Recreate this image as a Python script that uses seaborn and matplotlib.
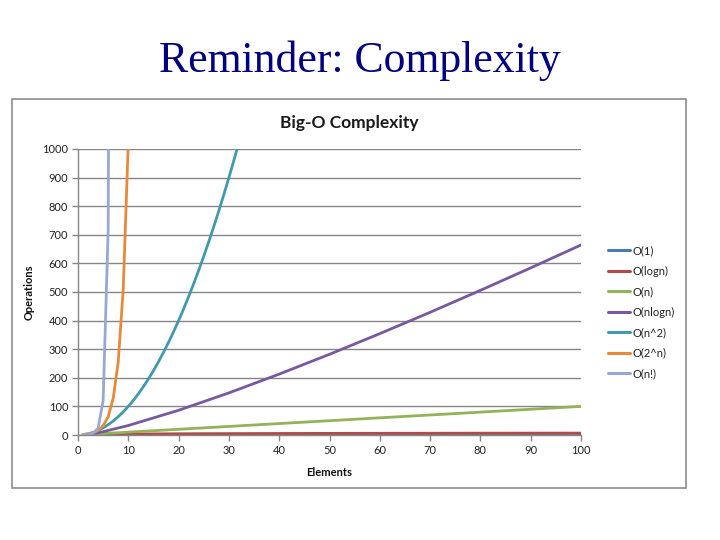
import matplotlib
matplotlib.use("Agg")
import matplotlib.pyplot as plt
import seaborn as sns
import pandas as pd
from matplotlib.patches import Rectangle

# ---- data ----
series_names = ["O(1)", "O(logn)", "O(n)", "O(nlogn)", "O(n^2)", "O(2^n)", "O(n!)"]
colors = ["#4A7BAE", "#B24A48", "#93B25A", "#7759A0", "#4298AE", "#E8893A", "#97A9D0"]

x_slow = [1, 2, 3, 4, 5, 10, 20, 30, 40, 50, 60, 70, 80, 90, 100]
y_o1 = [1, 1, 1, 1, 1, 1, 1, 1, 1, 1, 1, 1, 1, 1, 1]
y_logn = [0, 1, 1.58, 2, 2.32, 3.32, 4.32, 4.91, 5.32, 5.64, 5.91, 6.13, 6.32, 6.49, 6.64]
y_n = [1, 2, 3, 4, 5, 10, 20, 30, 40, 50, 60, 70, 80, 90, 100]
y_nlogn = [0, 2, 4.75, 8, 11.6, 33.2, 86.4, 147.2, 212.9, 282.2, 354.4, 429.0, 505.8, 584.3, 664.4]

x_sq = [1, 2, 3, 4, 5, 6, 7, 8, 9, 10, 11, 12, 13, 14, 15, 16,
        17, 18, 19, 20, 21, 22, 23, 24, 25, 26, 27, 28, 29, 30, 31, 32]
y_sq = [1, 4, 9, 16, 25, 36, 49, 64, 81, 100, 121, 144, 169, 196, 225, 256,
        289, 324, 361, 400, 441, 484, 529, 576, 625, 676, 729, 784, 841, 900, 961, 1024]

x_exp = [1, 2, 3, 4, 5, 6, 7, 8, 9, 10]
y_exp = [2, 4, 8, 16, 32, 64, 128, 256, 512, 1024]

x_fact = [1, 2, 3, 4, 5, 6, 7]
y_fact = [1, 2, 6, 24, 120, 720, 5040]

y_ticks = [0, 100, 200, 300, 400, 500, 600, 700, 800, 900, 1000]
x_ticks = [0, 10, 20, 30, 40, 50, 60, 70, 80, 90, 100]

# ---- build long table ----
parts = [
    (series_names[0], x_slow, y_o1),
    (series_names[1], x_slow, y_logn),
    (series_names[2], x_slow, y_n),
    (series_names[3], x_slow, y_nlogn),
    (series_names[4], x_sq, y_sq),
    (series_names[5], x_exp, y_exp),
    (series_names[6], x_fact, y_fact),
]
frames = [pd.DataFrame({"Elements": xs, "Operations": ys, "series": name}) for name, xs, ys in parts]
df = pd.concat(frames, ignore_index=True)

sns.set_theme(style="white")
plt.rcParams["font.family"] = ["DejaVu Sans"]

fig = plt.figure(figsize=(7.2, 5.4), dpi=100)
fig.patch.set_facecolor("white")

# slide title
fig.text(0.5, 1 - 61 / 540, "Reminder: Complexity", ha="center", va="center",
         fontsize=31.5, color="#000080", family=["Liberation Serif", "DejaVu Serif"])

# chart border
fig.add_artist(Rectangle((12 / 720, 1 - 488 / 540), 674 / 720, 389 / 540,
                         transform=fig.transFigure, fill=False,
                         edgecolor="#8C8C8C", linewidth=1.2))

# chart title
fig.text(349 / 720, 1 - 123 / 540, "Big-O Complexity", ha="center", va="center",
         fontsize=12.5, fontweight="bold", color="#1A1A1A", family=["Lato", "DejaVu Sans"])

ax = fig.add_axes([78 / 720, 1 - 435 / 540, 503 / 720, 286 / 540])
sns.lineplot(data=df, x="Elements", y="Operations", hue="series", hue_order=series_names,
             palette=colors, linewidth=2.0, estimator=None, sort=True, ax=ax)

ax.set_xlim(0, 100)
ax.set_ylim(0, 1000)
ax.set_xticks(x_ticks)
ax.set_yticks(y_ticks)
ax.yaxis.grid(True, color="#868686", linewidth=1)
ax.xaxis.grid(False)
ax.set_axisbelow(True)
for s in ["top", "right"]:
    ax.spines[s].set_visible(False)
for s in ["left", "bottom"]:
    ax.spines[s].set_color("#868686")
    ax.spines[s].set_linewidth(1)
ax.tick_params(axis="both", which="major", direction="out", length=4, width=1,
               color="#868686", labelsize=8, labelcolor="#222222", pad=3,
               bottom=True, left=True)
for lab in ax.get_xticklabels() + ax.get_yticklabels():
    lab.set_family(["Lato", "DejaVu Sans"])

ax.set_xlabel("Elements", fontsize=8, fontweight="bold", family=["Lato", "DejaVu Sans"], color="#111111")
ax.set_ylabel("Operations", fontsize=8, fontweight="bold", family=["Lato", "DejaVu Sans"], color="#111111")
ax.xaxis.set_label_coords(0.5, -(467 - 435) / 286)
ax.yaxis.set_label_coords((35 - 78) / 503, 0.5)

handles, labels = ax.get_legend_handles_labels()
ax.get_legend().remove()
leg = fig.legend(handles, labels, loc="center left",
                 bbox_to_anchor=(608 / 720, 1 - 312 / 540), frameon=False,
                 handlelength=2.0, handletextpad=0.2,
                 labelspacing=0.85, borderpad=0, borderaxespad=0,
                 prop={"family": ["Lato", "DejaVu Sans"], "size": 8})
for line in leg.get_lines():
    line.set_linewidth(2.2)
for t in leg.get_texts():
    t.set_color("#222222")

fig.savefig("out.png", dpi=100, facecolor="white")
